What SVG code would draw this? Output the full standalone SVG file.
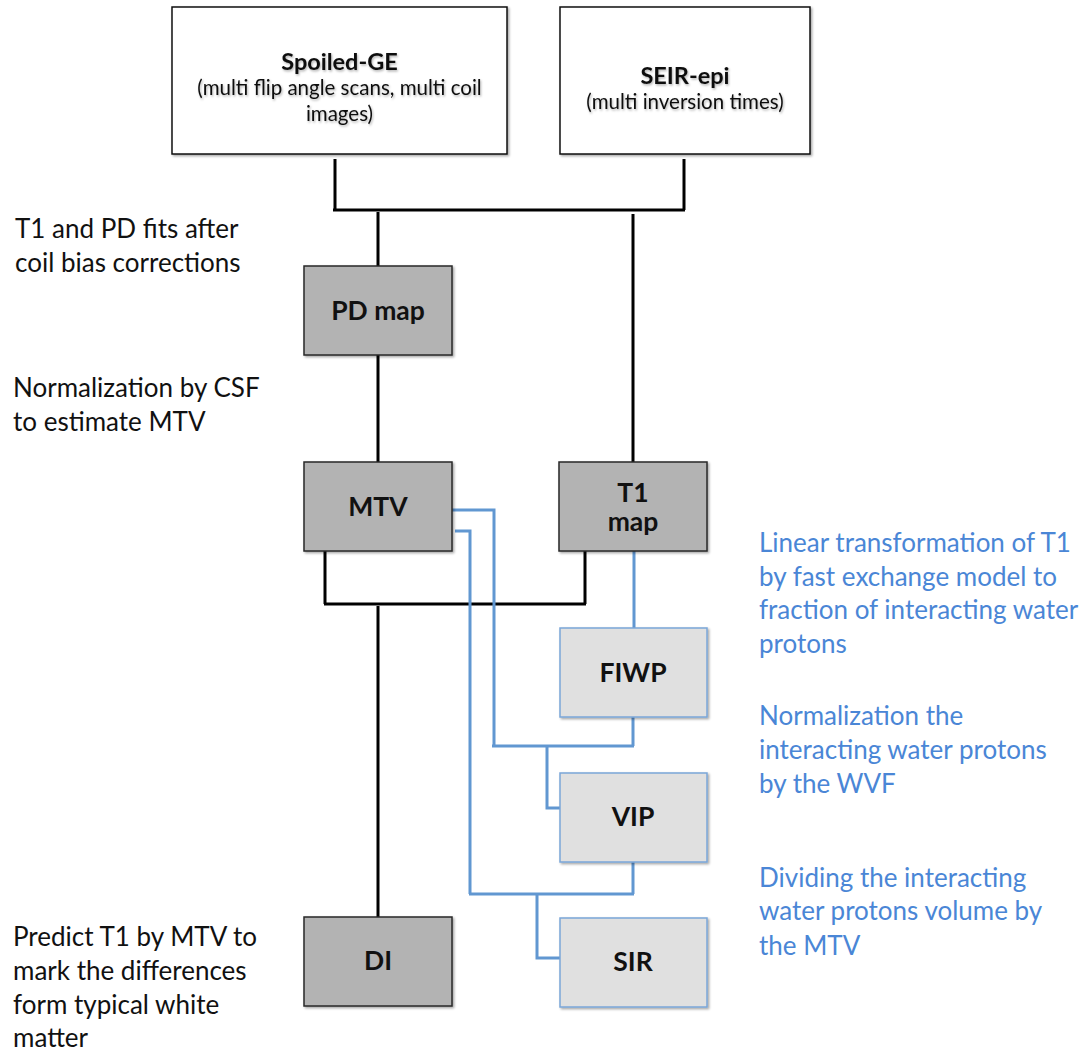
<svg xmlns="http://www.w3.org/2000/svg" width="1091" height="1053" viewBox="0 0 1091 1053">
<defs>
<filter id="sh" x="-10%" y="-10%" width="125%" height="125%">
<feDropShadow dx="1.5" dy="1.5" stdDeviation="1.2" flood-color="#000" flood-opacity="0.35"/>
</filter>
<filter id="tsh" x="-10%" y="-30%" width="120%" height="160%">
<feDropShadow dx="1" dy="1.5" stdDeviation="1" flood-color="#000" flood-opacity="0.3"/>
</filter>
<style>
.white{fill:#fff;stroke:#111;stroke-width:1.5;filter:url(#sh)}
.dark{fill:#b3b3b3;stroke:#2a2a2a;stroke-width:1.5;filter:url(#sh)}
.light{fill:#e0e0e0;stroke:#7ba6d8;stroke-width:1.5;filter:url(#sh)}
.lbl{font-family:Lato,"Open Sans",sans-serif;font-weight:bold;font-size:26.5px;fill:#111;text-anchor:middle}
.ttl{font-family:Lato,"Open Sans",sans-serif;font-weight:bold;font-size:23.5px;fill:#111;text-anchor:middle;filter:url(#tsh)}
.sub{font-family:Lato,"Open Sans",sans-serif;font-size:20.5px;fill:#111;text-anchor:middle;filter:url(#tsh)}
.note{font-family:Lato,"Open Sans",sans-serif;font-size:26px;fill:#111}
.bnote{font-family:Lato,"Open Sans",sans-serif;font-size:26px;fill:#4a86d6}
.k{fill:none;stroke:#000;stroke-width:3}
.b{fill:none;stroke:#6197d1;stroke-width:3}
</style>
</defs>
<g id="connectors">
<path class="k" d="M335 159V210M684 159V210M333 210H685M378 212V266M633 214V462M378 355V462M325 551V604M585 551V604M324 604H586M378 606V917"/>
<path class="b" d="M451 510H494V746M455 531H470V894M634 551V628M633 717V746M492 746H634M547 746V808H562M633 862V894M469 894H634M537 894V958H560"/>
</g>
<g id="spoiled-ge">
<rect class="white" x="172" y="7" width="335" height="147"/>
<text class="ttl" x="339.5" y="70">Spoiled-GE</text>
<text class="sub" x="339.5" y="95">(multi flip angle scans, multi coil</text>
<text class="sub" x="339.5" y="121">images)</text>
</g>
<g id="seir-epi">
<rect class="white" x="560" y="7" width="250" height="147"/>
<text class="ttl" x="685" y="84">SEIR-epi</text>
<text class="sub" x="685" y="109">(multi inversion times)</text>
</g>
<g id="pd-map">
<rect class="dark" x="304" y="266" width="148" height="89"/>
<text class="lbl" x="378" y="320">PD map</text>
</g>
<g id="mtv">
<rect class="dark" x="304" y="462" width="148" height="89"/>
<text class="lbl" x="378" y="516">MTV</text>
</g>
<g id="t1-map">
<rect class="dark" x="559" y="462" width="148" height="89"/>
<text class="lbl" x="633" y="502">T1</text>
<text class="lbl" x="633" y="531">map</text>
</g>
<g id="fiwp">
<rect class="light" x="560" y="628" width="147" height="89"/>
<text class="lbl" x="633" y="682">FIWP</text>
</g>
<g id="vip">
<rect class="light" x="560" y="773" width="147" height="89"/>
<text class="lbl" x="633" y="826">VIP</text>
</g>
<g id="sir">
<rect class="light" x="560" y="918" width="147" height="89"/>
<text class="lbl" x="633" y="971">SIR</text>
</g>
<g id="di">
<rect class="dark" x="304" y="917" width="148" height="89"/>
<text class="lbl" x="378" y="970">DI</text>
</g>
<g id="notes-left">
<text class="note" x="15" y="238">T1 and PD fits after</text>
<text class="note" x="15" y="272">coil bias corrections</text>
<text class="note" x="13" y="397">Normalization by CSF</text>
<text class="note" x="13" y="431">to estimate MTV</text>
<text class="note" x="13" y="946">Predict T1 by MTV to</text>
<text class="note" x="13" y="980">mark the differences</text>
<text class="note" x="13" y="1014">form typical white</text>
<text class="note" x="13" y="1047">matter</text>
</g>
<g id="notes-right">
<text class="bnote" x="759" y="552">Linear transformation of T1</text>
<text class="bnote" x="759" y="586">by fast exchange model to</text>
<text class="bnote" x="759" y="619">fraction of interacting water</text>
<text class="bnote" x="759" y="653">protons</text>
<text class="bnote" x="759" y="725">Normalization the</text>
<text class="bnote" x="759" y="759">interacting water protons</text>
<text class="bnote" x="759" y="793">by the WVF</text>
<text class="bnote" x="759" y="887">Dividing the interacting</text>
<text class="bnote" x="759" y="920">water protons volume by</text>
<text class="bnote" x="759" y="955">the MTV</text>
</g>
</svg>
